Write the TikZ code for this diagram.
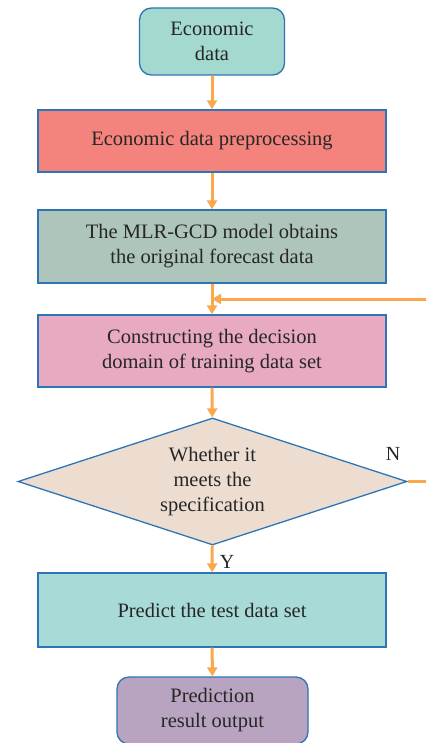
\documentclass[tikz,border=0pt]{standalone}
\usepackage{fontspec}
\setmainfont{Liberation Serif}
\usetikzlibrary{shapes.geometric,arrows.meta}
\definecolor{edge}{HTML}{2E75B6}
\definecolor{flow}{HTML}{F9A94B}
\definecolor{cTeal}{HTML}{A3D9CF}
\definecolor{cSalmon}{HTML}{F4837D}
\definecolor{cSage}{HTML}{ADC5BB}
\definecolor{cPink}{HTML}{E8A9C2}
\definecolor{cSand}{HTML}{EDDDD1}
\definecolor{cAqua}{HTML}{A8DAD8}
\definecolor{cMauve}{HTML}{B8A3C0}
\tikzset{
  box/.style={draw=edge, line width=1.3pt, align=center, font=\fontsize{20.5}{25}\selectfont, text=black!85, inner sep=0pt},
  termbox/.style={box, rounded corners=12pt},
  stepbox/.style={box, minimum width=348pt, minimum height=#1},
  flowline/.style={draw=flow, line width=3pt},
  flowarrow/.style={flowline, -{Triangle[width=10pt,length=9pt]}},
  lbl/.style={font=\fontsize{20}{22}\selectfont, text=black!85}
}
\begin{document}
\begin{tikzpicture}[x=1pt,y=-1pt]
\useasboundingbox (0,0) rectangle (426,743);
\begin{scope}
\clip (0,0) rectangle (426,743);
\node[termbox, fill=cTeal, minimum width=145pt, minimum height=67pt] (start) at (212,41.5) {Economic\\data};
\node[stepbox=62pt, fill=cSalmon] (prep) at (212,141) {Economic data preprocessing};
\node[stepbox=73pt, fill=cSage] (mlr) at (212,246.5) {The MLR-GCD model obtains\\the original forecast data};
\node[stepbox=72pt, fill=cPink] (dom) at (212,351) {Constructing the decision\\domain of training data set};
\node[diamond, draw=edge, line width=1.3pt, fill=cSand, aspect=3.08, minimum width=389pt, minimum height=127pt, inner sep=0pt, align=center, font=\fontsize{20.5}{25}\selectfont, text=black!85] (chk) at (212.5,481.5) {Whether it\\meets the\\specification};
\node[stepbox=74pt, fill=cAqua] (pred) at (212,610) {Predict the test data set};
\node[termbox, fill=cMauve, minimum width=191pt, minimum height=67pt] (out) at (212.5,710.5) {Prediction\\result output};

\draw[flowarrow] (start) -- (prep);
\draw[flowarrow] (prep) -- (mlr);
\draw[flowarrow] (mlr) -- (dom);
\draw[flowarrow] (dom) -- (chk);
\draw[flowarrow] (chk) -- (pred);
\draw[flowarrow] (pred) -- (out);

\coordinate (back) at (440,481.5);
\coordinate (join) at (212,299);
\draw[flowarrow] (chk.east) -- (back) |- (join);

\node[lbl] (ylab) at (227,562) {Y};
\node[lbl] (nlab) at (393,454) {N};
\end{scope}
\end{tikzpicture}
\end{document}
